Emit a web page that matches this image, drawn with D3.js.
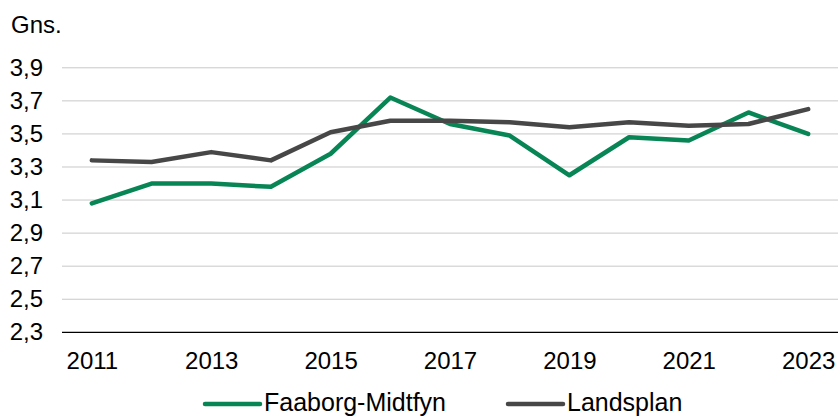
<!DOCTYPE html>
<html>
<head>
<meta charset="utf-8">
<script src="https://cdn.jsdelivr.net/npm/d3@7"></script>
<style>
  body { margin: 0; background: #fff; }
  svg { display: block; font-family: "Liberation Sans", Arial, sans-serif; }
</style>
</head>
<body>
<div id="chart"></div>
<script>
const years = [2011, 2012, 2013, 2014, 2015, 2016, 2017, 2018, 2019, 2020, 2021, 2022, 2023];
const faaborg = [3.08, 3.20, 3.20, 3.18, 3.38, 3.72, 3.56, 3.49, 3.25, 3.48, 3.46, 3.63, 3.50];
const landsplan = [3.34, 3.33, 3.39, 3.34, 3.51, 3.58, 3.58, 3.57, 3.54, 3.57, 3.55, 3.56, 3.65];
const yTicks = [2.3, 2.5, 2.7, 2.9, 3.1, 3.3, 3.5, 3.7, 3.9];
const xTickYears = [2011, 2013, 2015, 2017, 2019, 2021, 2023];
const seriesNames = ['Faaborg-Midtfyn', 'Landsplan'];

const width = 838, height = 416;
const plot = { left: 62, right: 838, top: 67.8, bottom: 332.3 };
const colors = ['#078555', '#474747'];
const fs = 24;

const svg = d3.select('#chart').append('svg')
  .attr('width', width)
  .attr('height', height);

const x = d3.scalePoint().domain(years).range([plot.left, plot.right]).padding(0.5);
const y = d3.scaleLinear().domain([2.3, 3.9]).range([plot.bottom, plot.top]);

// gridlines
svg.append('g')
  .selectAll('line')
  .data(yTicks.slice(1))
  .enter().append('line')
  .attr('x1', plot.left).attr('x2', plot.right)
  .attr('y1', d => y(d)).attr('y2', d => y(d))
  .attr('stroke', '#c8c8c8')
  .attr('stroke-width', 1);

// y axis labels
const fmt = d => d3.format('.1f')(d).replace('.', ',');
const yAxis = d3.axisLeft(y).tickValues(yTicks).tickFormat(fmt).tickSize(0).tickPadding(19);
const yg = svg.append('g').attr('transform', `translate(${plot.left},0)`).call(yAxis);
yg.select('.domain').remove();
yg.selectAll('text').attr('font-size', fs).attr('fill', '#000').attr('font-family', null);

// x axis
const xAxis = d3.axisBottom(x).tickValues(xTickYears).tickSize(0).tickPadding(0);
const xg = svg.append('g').attr('transform', `translate(0,${plot.bottom})`).call(xAxis);
xg.select('.domain').remove();
xg.selectAll('text').attr('font-size', fs).attr('fill', '#000').attr('font-family', null)
  .attr('dy', null).attr('y', 37);

svg.append('line')
  .attr('x1', plot.left).attr('x2', plot.right)
  .attr('y1', plot.bottom).attr('y2', plot.bottom)
  .attr('stroke', '#000').attr('stroke-width', 1.3);

// unit label
svg.append('text').attr('x', 11).attr('y', 33).attr('font-size', fs).text('Gns.');

// lines
const line = d3.line().x((d, i) => x(years[i])).y(d => y(d));
[faaborg, landsplan].forEach((s, i) => {
  svg.append('path')
    .datum(s)
    .attr('d', line)
    .attr('fill', 'none')
    .attr('stroke', colors[i])
    .attr('stroke-width', 4.5)
    .attr('stroke-linejoin', 'round')
    .attr('stroke-linecap', 'round');
});

// legend
const legendX = [205, 508];
seriesNames.forEach((name, i) => {
  const g = svg.append('g').attr('transform', `translate(${legendX[i]},404)`);
  g.append('line').attr('x1', 0).attr('x2', 55).attr('y1', 0).attr('y2', 0)
    .attr('stroke', colors[i]).attr('stroke-width', 4.5).attr('stroke-linecap', 'round');
  g.append('text').attr('x', 59).attr('y', 7).attr('font-size', 25).text(name);
});
</script>
</body>
</html>
